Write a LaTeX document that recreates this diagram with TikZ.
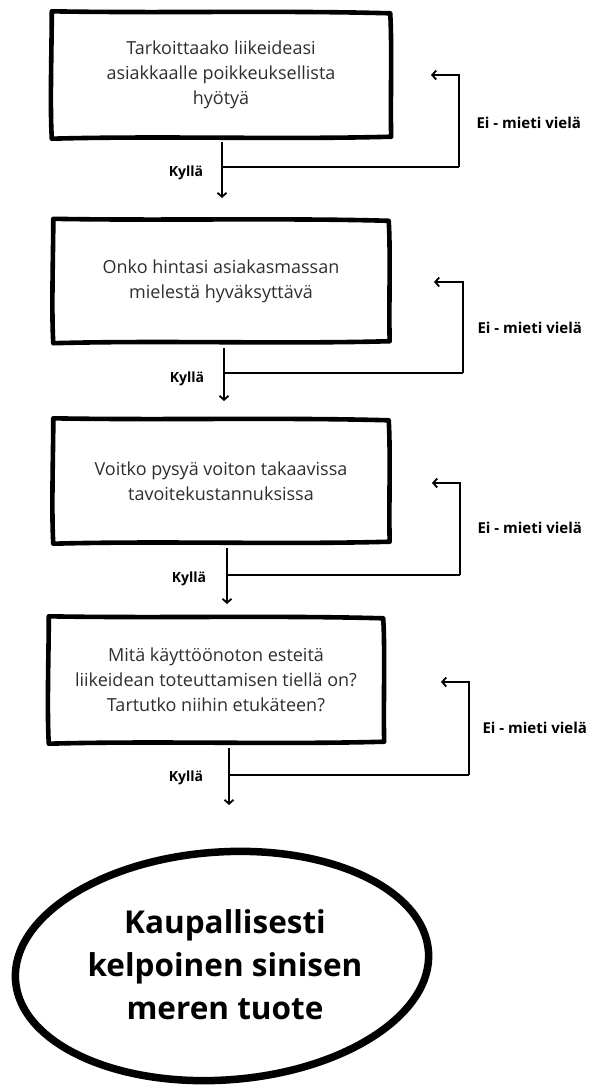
\documentclass[tikz,border=0pt]{standalone}
\usepackage{fontspec}
\setmainfont{Open Sans}
\usetikzlibrary{arrows.meta,calc}

\tikzset{
  qbox/.style={draw=none, align=center, text=black!82, font=\fontsize{18}{25}\selectfont,
               minimum width=337pt, minimum height=123pt, inner sep=0pt},
  sketch/.style={line width=4.6pt, line join=round, line cap=round},
  flow/.style={line width=1.8pt, -{Straight Barb[length=4pt,width=9pt,line width=1.8pt]}},
  link/.style={line width=1.8pt},
  yes/.style={font=\bfseries\fontsize{14}{16}\selectfont},
  no/.style={font=\bfseries\fontsize{15}{17}\selectfont, anchor=west},
  goal/.style={align=center, font=\bfseries\fontsize{31.5}{43}\selectfont, inner sep=0pt}
}

% hand-drawn looking outline around a question box
\newcommand{\sketchframe}[1]{%
  \draw[sketch]
    ($(#1.north west)+(1,-1)$) .. controls ($(#1.north)+(-60,1)$) and ($(#1.north)+(60,-2)$) ..
    ($(#1.north east)+(-1,1)$) .. controls ($(#1.east)+(1,-30)$) and ($(#1.east)+(-1,30)$) ..
    ($(#1.south east)+(0,-1)$) .. controls ($(#1.south)+(60,2)$) and ($(#1.south)+(-60,-2)$) ..
    ($(#1.south west)+(1,1)$) .. controls ($(#1.west)+(-1,30)$) and ($(#1.west)+(1,-30)$) ..
    cycle;}

\begin{document}
\begin{tikzpicture}[x=1pt,y=-1pt]
\useasboundingbox (0,0) rectangle (592,1088);

% question boxes
\node[qbox, minimum width=340pt, minimum height=125pt] (q1) at (221,75)
  {Tarkoittaako liikeideasi\\asiakkaalle poikkeuksellista\\hyötyä};
\node[qbox, minimum height=122pt] (q2) at (221,281)
  {Onko hintasi asiakasmassan\\mielestä hyväksyttävä};
\node[qbox] (q3) at (221,481)
  {Voitko pysyä voiton takaavissa\\tavoitekustannuksissa};
\node[qbox, minimum width=336pt, minimum height=125pt] (q4) at (216,680)
  {Mitä käyttöönoton esteitä\\liikeidean toteuttamisen tiellä on?\\Tartutko niihin etukäteen?};
\foreach \b in {q1,q2,q3,q4} {\sketchframe{\b}}

% final result
\node[goal] (res) at (225,965) {Kaupallisesti\\kelpoinen sinisen\\meren tuote};
\draw[line width=7.5pt, rotate around={4:(222,966)}] (222,966) ellipse [x radius=207, y radius=114];

% yes arrows with their branch points
\coordinate (s1) at (222,142); \coordinate (e1) at (222,198); \coordinate (j1) at (222,167);
\coordinate (s2) at (224,348); \coordinate (e2) at (224,401); \coordinate (j2) at (224,373);
\coordinate (s3) at (227,548); \coordinate (e3) at (227,604); \coordinate (j3) at (227,575);
\coordinate (s4) at (229,748); \coordinate (e4) at (229,805); \coordinate (j4) at (229,775);

% "no" loops back towards each box
\coordinate (c1) at (459,167); \coordinate (t1) at (459,75);  \coordinate (a1) at (431,75);
\coordinate (c2) at (463,373); \coordinate (t2) at (463,282); \coordinate (a2) at (434,282);
\coordinate (c3) at (460,575); \coordinate (t3) at (460,483); \coordinate (a3) at (432,483);
\coordinate (c4) at (469,775); \coordinate (t4) at (469,682); \coordinate (a4) at (441,682);

\foreach \i in {1,2,3,4} {
  \draw[flow] (s\i) -- (e\i);
  \draw[link] (j\i) -- (c\i);
  \draw[flow] (c\i) -- (t\i) -- (a\i);
}

% labels
\node[yes] (y1) at (186,173) {Kyllä};
\node[yes] (y2) at (187,379) {Kyllä};
\node[yes] (y3) at (189,579) {Kyllä};
\node[yes] (y4) at (186,778) {Kyllä};
\node[no] (n1) at (473,123) {Ei - mieti vielä};
\node[no] (n2) at (474,328) {Ei - mieti vielä};
\node[no] (n3) at (474,528) {Ei - mieti vielä};
\node[no] (n4) at (479,728) {Ei - mieti vielä};
\end{tikzpicture}
\end{document}
